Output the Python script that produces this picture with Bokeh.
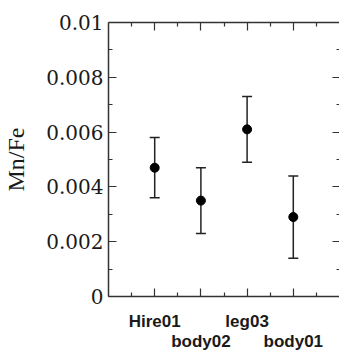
from bokeh.plotting import figure
from bokeh.models import (LinearAxis, FixedTicker, Whisker, TeeHead,
                          ColumnDataSource, Range1d, PrintfTickFormatter)
from bokeh.embed import file_html
from bokeh.resources import INLINE

samples = ["Hire01", "body02", "leg03", "body01"]
positions = [1, 2, 3, 4]
mn_fe = [0.0047, 0.0035, 0.0061, 0.0029]
upper = [0.0058, 0.0047, 0.0073, 0.0044]
lower = [0.0036, 0.0023, 0.0049, 0.0014]
y_ticks = [0, 0.002, 0.004, 0.006, 0.008, 0.01]
y_minor = [0.001, 0.003, 0.005, 0.007, 0.009]
x_minor = [0.5, 1.5, 2.5, 3.5, 4.5]

src = ColumnDataSource(dict(x=positions, y=mn_fe, upper=upper, lower=lower))

p = figure(width=339, height=354, x_range=Range1d(0, 5), y_range=Range1d(0, 0.01),
           x_axis_type=None, y_axis_type=None, output_backend="svg",
           toolbar_location=None, min_border_left=106, min_border_top=22,
           min_border_right=0, min_border_bottom=58)
p.outline_line_color = None
p.grid.visible = False
p.background_fill_color = "white"

AX = "#333333"
SERIF = "Liberation Serif"

def style(ax, major_in=8, minor_in=4):
    ax.axis_line_color = AX
    ax.axis_line_width = 1.5
    ax.major_tick_line_color = AX
    ax.minor_tick_line_color = AX
    ax.major_tick_line_width = 1.2
    ax.minor_tick_line_width = 1.2
    ax.major_tick_in = major_in
    ax.major_tick_out = 0
    ax.minor_tick_in = minor_in
    ax.minor_tick_out = 0

# left axis
left = LinearAxis(ticker=FixedTicker(ticks=y_ticks, minor_ticks=y_minor),
                  formatter=PrintfTickFormatter(format="%g"))
style(left)
left.major_label_text_font = "DejaVu Serif"
left.major_label_text_font_size = "20px"
left.major_label_text_color = "#1a1a1a"
left.major_label_standoff = 5
left.axis_label = "Mn/Fe"
left.axis_label_text_font = SERIF
left.axis_label_text_font_size = "24px"
left.axis_label_text_font_style = "normal"
left.axis_label_text_color = "#1a1a1a"
left.axis_label_standoff = 14
p.add_layout(left, "left")

# right axis (ticks only)
right = LinearAxis(ticker=FixedTicker(ticks=y_ticks, minor_ticks=y_minor))
style(right, 7, 3)
right.axis_line_color = None
right.major_label_overrides = {t: "" for t in y_ticks}
right.major_label_standoff = 0
p.add_layout(right, "right")

# top axis (ticks only)
top = LinearAxis(ticker=FixedTicker(ticks=positions, minor_ticks=x_minor))
style(top)
top.major_label_overrides = {t: "" for t in positions}
top.major_label_standoff = 0
p.add_layout(top, "above")

# bottom axis, first row of labels
bottom1 = LinearAxis(ticker=FixedTicker(ticks=positions, minor_ticks=x_minor))
style(bottom1)
bottom1.major_label_overrides = {pos: (name if i % 2 == 0 else "")
                                 for i, (pos, name) in enumerate(zip(positions, samples))}
bottom1.major_label_text_font = "Liberation Sans"
bottom1.major_label_text_font_style = "bold"
bottom1.major_label_text_font_size = "17px"
bottom1.major_label_text_color = "#1a1a1a"
bottom1.major_label_standoff = 15
p.add_layout(bottom1, "below")

# bottom axis, second row of labels
bottom2 = LinearAxis(ticker=FixedTicker(ticks=positions[1::2], minor_ticks=[]))
bottom2.axis_line_color = None
bottom2.major_tick_line_color = None
bottom2.major_tick_in = 0
bottom2.major_tick_out = 0
bottom2.minor_tick_line_color = None
bottom2.major_label_overrides = {pos: name for pos, name in zip(positions[1::2], samples[1::2])}
bottom2.major_label_text_font = "Liberation Sans"
bottom2.major_label_text_font_style = "bold"
bottom2.major_label_text_font_size = "17px"
bottom2.major_label_text_color = "#1a1a1a"
bottom2.major_label_standoff = -2
p.add_layout(bottom2, "below")

whisk = Whisker(base="x", upper="upper", lower="lower", source=src,
                line_color="#222222", line_width=1.5,
                upper_head=TeeHead(size=10, line_color="#222222", line_width=1.5),
                lower_head=TeeHead(size=10, line_color="#222222", line_width=1.5))
p.add_layout(whisk)
p.scatter("x", "y", source=src, size=9, color="black")

open("out.html", "w").write(file_html(p, INLINE))
